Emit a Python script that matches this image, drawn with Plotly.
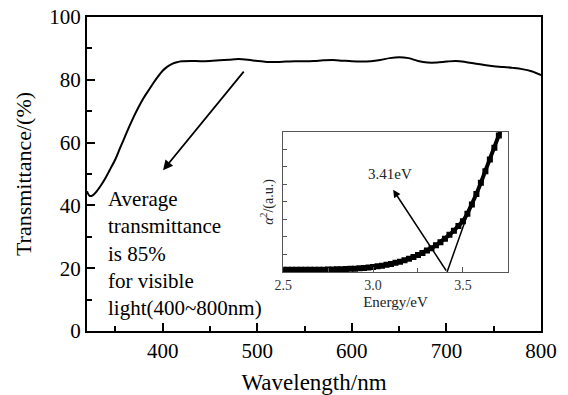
import plotly.graph_objects as go

# Main transmittance spectrum
wavelength = [320, 323, 326, 330, 335, 340, 345, 350, 355, 360, 365, 370, 375, 380, 385,
              390, 395, 400, 405, 410, 415, 420, 430, 440, 450, 460, 470, 480, 490, 500,
              510, 520, 530, 540, 550, 560, 570, 580, 590, 600, 610, 620, 630, 640, 650,
              660, 670, 680, 690, 700, 710, 720, 730, 740, 750, 760, 770, 780, 790, 800]
transmittance = [44.5, 43.0, 43.2, 44.4, 46.5, 49.0, 51.8, 54.7, 58.3, 61.8, 65.3, 68.6, 71.6, 74.3, 76.6,
                 78.9, 81.0, 82.9, 84.2, 85.1, 85.6, 85.9, 86.0, 85.9, 86.0, 86.2, 86.4, 86.6, 86.4, 86.0,
                 85.7, 85.7, 85.8, 85.9, 85.9, 86.0, 86.2, 86.3, 86.1, 85.9, 85.8, 85.9, 86.3, 86.9, 87.2,
                 86.9, 86.0, 85.5, 85.5, 85.8, 86.0, 85.7, 85.2, 84.7, 84.3, 84.1, 83.8, 83.4, 82.7, 81.5]

# Inset: alpha^2 vs photon energy
energy = [2.500, 2.525, 2.550, 2.575, 2.600, 2.625, 2.650, 2.675, 2.700, 2.725, 2.750, 2.775,
          2.800, 2.825, 2.850, 2.875, 2.900, 2.925, 2.950, 2.975, 3.000, 3.025, 3.050, 3.075,
          3.100, 3.125, 3.150, 3.175, 3.200, 3.225, 3.250, 3.275, 3.300, 3.325, 3.350, 3.375,
          3.400, 3.425, 3.450, 3.475, 3.500, 3.525, 3.550, 3.575, 3.600, 3.625, 3.650, 3.675,
          3.700, 3.725]
alpha_sq = [0.12, 0.12, 0.12, 0.12, 0.12, 0.12, 0.12, 0.13, 0.13, 0.13, 0.14, 0.14,
            0.15, 0.16, 0.17, 0.18, 0.19, 0.21, 0.23, 0.26, 0.29, 0.32, 0.36, 0.41,
            0.46, 0.52, 0.59, 0.67, 0.76, 0.86, 0.97, 1.09, 1.22, 1.36, 1.52, 1.70,
            1.90, 2.12, 2.36, 2.62, 2.90, 3.33, 3.85, 4.45, 5.10, 5.75, 6.42, 7.10,
            7.80, 8.50]

# Linear extrapolation line for band gap
fit_x = [3.412, 3.543]
fit_y = [0.0, 3.80]
gap_arrow_tail = (3.412, 0.0)
gap_arrow_head = (3.112, 4.69)
gap_label_pos = (3.097, 5.6)
gap_label = "3.41eV"

main_arrow_tail = (487, 83.1)
main_arrow_head = (400.4, 51.2)
note_pos = (340, 24.6)
note_text = "Average<br>transmittance<br>is 85%<br>for visible<br>light(400~800nm)"

FONT = "Liberation Serif"

fig = go.Figure()
fig.add_trace(go.Scatter(x=wavelength, y=transmittance, mode="lines",
                         line=dict(color="black", width=2, shape="spline"),
                         xaxis="x", yaxis="y", showlegend=False))
fig.add_trace(go.Scatter(x=energy, y=alpha_sq, mode="lines+markers",
                         line=dict(color="black", width=4),
                         marker=dict(symbol="square", size=6, color="black"),
                         xaxis="x2", yaxis="y2", showlegend=False))
fig.add_trace(go.Scatter(x=fit_x, y=fit_y, mode="lines",
                         line=dict(color="black", width=1.5),
                         xaxis="x2", yaxis="y2", showlegend=False))

fig.update_layout(
    width=568, height=395,
    margin=dict(l=87, r=27, t=17, b=64),
    paper_bgcolor="white", plot_bgcolor="white",
    font=dict(family=FONT, color="black", size=20),
    xaxis=dict(domain=[0, 1], range=[320, 800], tickvals=[400, 500, 600, 700, 800],
               automargin=False,
               ticks="inside", ticklen=8, tickwidth=1.5, tickcolor="black",
               minor=dict(tickvals=[350, 450, 550, 650, 750], ticks="inside", ticklen=5,
                          tickwidth=1.5, tickcolor="black"),
               showline=True, linecolor="black", linewidth=2, mirror=True,
               showgrid=False, zeroline=False,
               tickfont=dict(size=21, family=FONT),
               title=dict(text="Wavelength/nm", font=dict(size=23, family=FONT), standoff=14)),
    yaxis=dict(domain=[0, 1], range=[0, 100], dtick=20,
               automargin=False,
               ticks="inside", ticklen=8, tickwidth=1.5, tickcolor="black",
               minor=dict(dtick=10, ticks="inside", ticklen=5, tickwidth=1.5, tickcolor="black"),
               showline=True, linecolor="black", linewidth=2, mirror=True,
               showgrid=False, zeroline=False,
               tickfont=dict(size=21, family=FONT),
               title=dict(text="Transmittance/(%)", font=dict(size=22, family=FONT), standoff=12)),
    xaxis2=dict(domain=[0.432, 0.927], anchor="y2", range=[2.5, 3.75],
                tickvals=[2.5, 3.0, 3.5], ticktext=["2.5", "3.0", "3.5"],
                automargin=False,
                ticks="inside", ticklen=5, tickwidth=1, tickcolor="#555",
                minor=dict(tickvals=[2.75, 3.25], ticks="inside", ticklen=4, tickwidth=1, tickcolor="#555"),
                showline=True, linecolor="#555", linewidth=1, mirror=True,
                showgrid=False, zeroline=False,
                tickfont=dict(size=14, family=FONT, color="#333"),
                title=dict(text="Energy/eV", font=dict(size=15, family=FONT, color="#222"), standoff=4)),
    yaxis2=dict(domain=[0.188, 0.634], anchor="x2", range=[0, 8], dtick=1,
                showticklabels=False, automargin=False,
                ticks="inside", ticklen=4, tickwidth=1, tickcolor="#555",
                showline=True, linecolor="#555", linewidth=1, mirror=True,
                showgrid=False, zeroline=False,
                title=dict(text="<i>α</i><sup>2</sup>/(a.u.)", font=dict(size=14, family=FONT, color="#222"),
                           standoff=5)),
    annotations=[
        dict(x=main_arrow_head[0], y=main_arrow_head[1], ax=main_arrow_tail[0], ay=main_arrow_tail[1],
             xref="x", yref="y", axref="x", ayref="y", text="", showarrow=True,
             arrowhead=2, arrowsize=1.1, arrowwidth=1.8, arrowcolor="black", standoff=0, startstandoff=0),
        dict(x=note_pos[0], y=note_pos[1], xref="x", yref="y", text=note_text, showarrow=False,
             xanchor="left", yanchor="middle", align="left",
             font=dict(size=21, family=FONT, color="black")),
        dict(x=gap_arrow_head[0], y=gap_arrow_head[1], ax=gap_arrow_tail[0], ay=gap_arrow_tail[1],
             xref="x2", yref="y2", axref="x2", ayref="y2", text="", showarrow=True,
             arrowhead=2, arrowsize=1, arrowwidth=1.5, arrowcolor="black", standoff=0, startstandoff=0),
        dict(x=gap_label_pos[0], y=gap_label_pos[1], xref="x2", yref="y2", text=gap_label,
             showarrow=False, font=dict(size=15, family=FONT, color="#222")),
    ],
)

fig.write_html("out.html")
